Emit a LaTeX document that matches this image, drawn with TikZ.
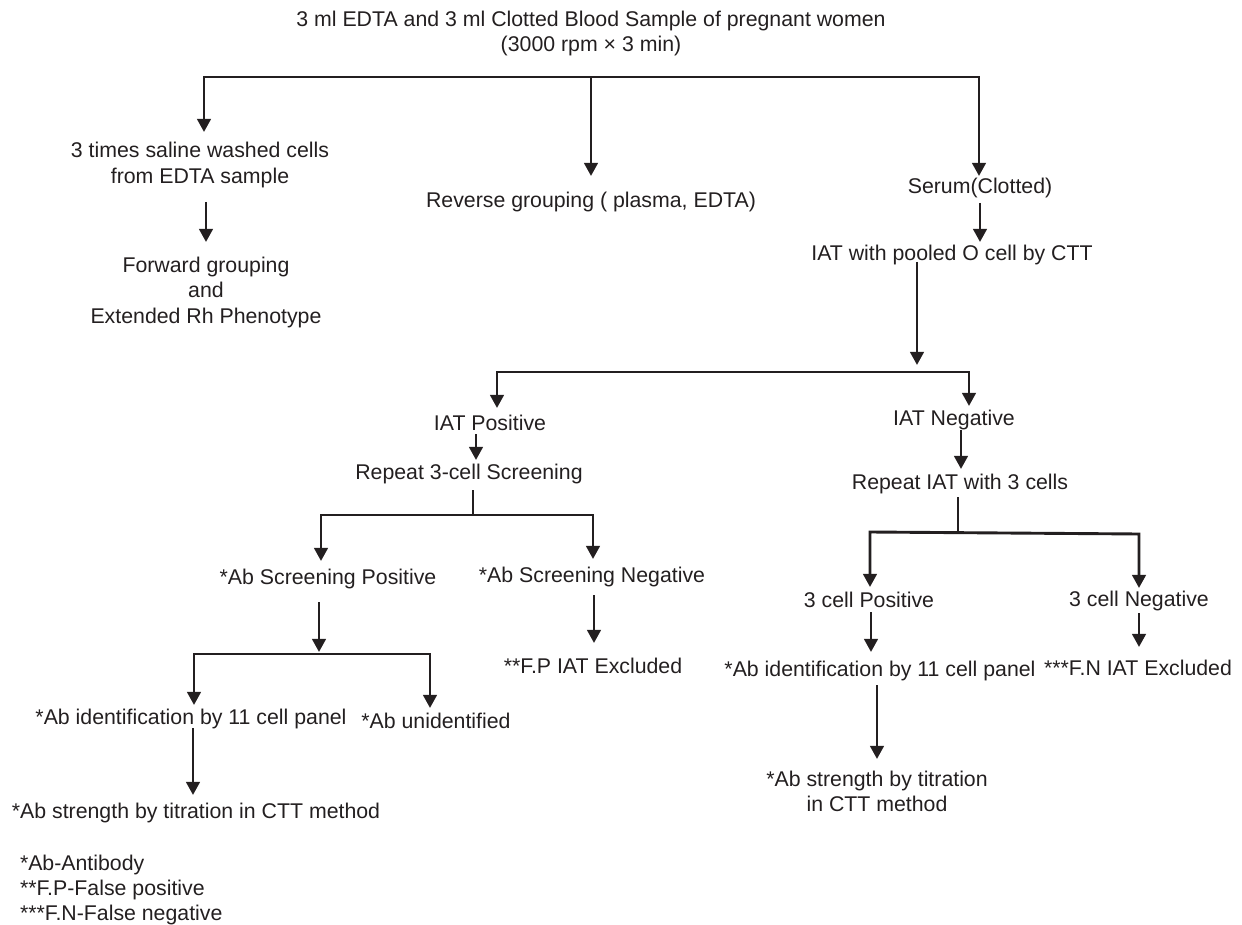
\documentclass[tikz,border=0pt]{standalone}
\usepackage{fontspec}
\setmainfont{Liberation Sans}
\usetikzlibrary{arrows.meta}
\definecolor{ink}{RGB}{35,31,32}
\begin{document}
\begin{tikzpicture}[x=0.5pt,y=-0.5pt,
  every node/.style={inner sep=0pt,outer sep=0pt,anchor=base,text=ink,font=\fontsize{10.65}{12.8}\selectfont},
  legend/.style={anchor=base west},
  conn/.style={draw=ink,line width=1.45pt,line join=miter},
  arr/.style={conn,-{Triangle[length=6.6pt,width=6.8pt]}},
  arrB/.style={conn,{Triangle[length=6.6pt,width=6.8pt]}-{Triangle[length=6.6pt,width=6.8pt]}}]
\useasboundingbox (0,0) rectangle (1242,925);

% ---- texts ----
\node (t1) at (591,27) {3 ml EDTA and 3 ml Clotted Blood Sample of pregnant women};
\node (t2) at (591,52) {(3000 rpm × 3 min)};
\node (wash1) at (200,158) {3 times saline washed cells};
\node (wash2) at (200,184) {from EDTA sample};
\node (fwd1) at (206,273) {Forward grouping};
\node (fwd2) at (206,298) {and};
\node (fwd3) at (206,323) {Extended Rh Phenotype};
\node (rev) at (591,208) {Reverse grouping ( plasma, EDTA)};
\node (serum) at (980,194) {Serum(Clotted)};
\node (iat) at (952,261) {IAT with pooled O cell by CTT};
\node (iatpos) at (490,430) {IAT Positive};
\node (iatneg) at (954,425) {IAT Negative};
\node (rep3) at (469,479) {Repeat 3-cell Screening};
\node (repiat) at (960,489) {Repeat IAT with 3 cells};
\node (absp) at (328,584) {*Ab Screening Positive};
\node (absn) at (592,582) {*Ab Screening Negative};
\node (c3p) at (869,607) {3 cell Positive};
\node (c3n) at (1139,606) {3 cell Negative};
\node (fp) at (593,673) {**F.P IAT Excluded};
\node (abidR) at (880,676) {*Ab identification by 11 cell panel};
\node (fn) at (1138,675) {***F.N IAT Excluded};
\node (abidL) at (191,724) {*Ab identification by 11 cell panel};
\node (abun) at (436,728) {*Ab unidentified};
\node (strL) at (196,818) {*Ab strength by titration in CTT method};
\node (strR1) at (877,786) {*Ab strength by titration};
\node (strR2) at (877,811) {in CTT method};
\node[legend] (lg1) at (20,870) {*Ab-Antibody};
\node[legend] (lg2) at (20,895) {**F.P-False positive};
\node[legend] (lg3) at (20,920) {***F.N-False negative};

% ---- connector points ----
\coordinate (b1L) at (204,77);
\coordinate (b1M) at (591,77);
\coordinate (b1R) at (979,77);
\coordinate (a1) at (204,132);
\coordinate (a2) at (591,176);
\coordinate (a3) at (979,176);
\coordinate (s4) at (206,202);
\coordinate (e4) at (206,242);
\coordinate (s5) at (980,203);
\coordinate (e5) at (980,242);
\coordinate (s6) at (917,262);
\coordinate (e6) at (917,365);
\coordinate (b2L) at (497,372);
\coordinate (b2R) at (969,372);
\coordinate (a7L) at (497,408);
\coordinate (a7R) at (969,406);
\coordinate (s8) at (476,434);
\coordinate (e8) at (476,460);
\coordinate (s9) at (961,430);
\coordinate (e9) at (961,469);
\coordinate (s10) at (473,490);
\coordinate (b3M) at (473,515);
\coordinate (b3L) at (321,515);
\coordinate (b3R) at (593,515);
\coordinate (a10L) at (321,561);
\coordinate (a10R) at (593,559);
\coordinate (s11) at (319,602);
\coordinate (e11) at (319,652);
\coordinate (b4L) at (194,654);
\coordinate (b4R) at (430,654);
\coordinate (a11L) at (194,705);
\coordinate (a11R) at (430,708);
\coordinate (s12) at (594,595);
\coordinate (e12) at (594,643);
\coordinate (s13) at (958,497);
\coordinate (b5M) at (958,533);
\coordinate (b5L) at (870,532);
\coordinate (b5R) at (1139,534);
\coordinate (a13L) at (870,587);
\coordinate (a13R) at (1139,588);
\coordinate (s14) at (871,612);
\coordinate (e14) at (871,652);
\coordinate (s15) at (1139,613);
\coordinate (e15) at (1139,647);
\coordinate (s16) at (877,685);
\coordinate (e16) at (877,759);
\coordinate (s17) at (193,728);
\coordinate (e17) at (193,795);

% ---- connectors ----
\draw[arrB] (a1) -- (b1L) -- (b1R) -- (a3);
\draw[arr] (b1M) -- (a2);
\draw[arr] (s4) -- (e4);
\draw[arr] (s5) -- (e5);
\draw[arr] (s6) -- (e6);
\draw[arrB] (a7L) -- (b2L) -- (b2R) -- (a7R);
\draw[arr] (s8) -- (e8);
\draw[arr] (s9) -- (e9);
\draw[conn] (s10) -- (b3M);
\draw[arrB] (a10L) -- (b3L) -- (b3R) -- (a10R);
\draw[arr] (s11) -- (e11);
\draw[arrB] (a11L) -- (b4L) -- (b4R) -- (a11R);
\draw[arr] (s12) -- (e12);
\draw[conn] (s13) -- (b5M);
\draw[arrB] (a13L) -- (b5L) -- (b5R) -- (a13R);
\draw[arr] (s14) -- (e14);
\draw[arr] (s15) -- (e15);
\draw[arr] (s16) -- (e16);
\draw[arr] (s17) -- (e17);
\end{tikzpicture}
\end{document}
